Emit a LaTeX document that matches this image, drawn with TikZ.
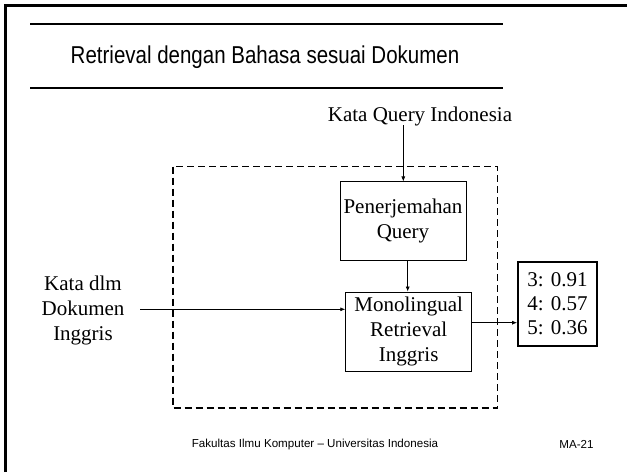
\documentclass[tikz,border=0pt]{standalone}
\usepackage{fontspec}
\setmainfont{Liberation Serif}
\newfontfamily\headfont{Liberation Sans}
\usetikzlibrary{arrows.meta}

\tikzset{
  slideframe/.style={line width=2.4pt},
  titlerule/.style={line width=2.2pt},
  bodytext/.style={font=\fontsize{21}{25}\selectfont, align=center, inner sep=0pt},
  procbox/.style={draw, line width=0.9pt, bodytext, minimum width=126pt, minimum height=79pt},
  resultbox/.style={draw, line width=1.8pt, font=\fontsize{21}{24}\selectfont, align=left,
    inner sep=0pt, minimum width=79pt, minimum height=84pt},
  systembox/.style={line width=1.8pt, dash pattern=on 7pt off 4pt},
  flow/.style={-{Latex[length=5pt,width=4pt]}, line width=0.7pt},
  foot/.style={font=\headfont\fontsize{11.6}{13}\selectfont, inner sep=0pt}
}

\begin{document}
\begin{tikzpicture}[x=1pt,y=-1pt]
\useasboundingbox (0,0) rectangle (627,472);

% slide frame and title rules
\draw[slideframe] (5.3,472) -- (5.3,5.3) -- (627,5.3);
\draw[titlerule] (30,24.3) -- (502.7,24.3);
\draw[titlerule] (30,88.3) -- (502.7,88.3);
\node[font=\headfont\fontsize{24.4}{28}\selectfont, inner sep=0pt, anchor=base] (title)
  at (265,63.3) {\scalebox{0.84}[1]{Retrieval dengan Bahasa sesuai Dokumen}};

% dashed system boundary
\draw[systembox] (172.7,166.5) rectangle (497.5,407.7);

% inputs
\node[bodytext, anchor=base] (query) at (420,121) {Kata Query Indonesia};
\node[bodytext] (docs) at (83,310) {Kata dlm\\Dokumen\\Inggris};

% processing steps
\node[procbox] (trans) at (403,221.4) {Penerjemahan\\Query};
\node[procbox] (mono) at (408.7,331.5) {Monolingual\\Retrieval\\Inggris};

% ranked result list
\node[resultbox] (res) at (557.5,304) {3: 0.91\\4: 0.57\\5: 0.36};

% connectors
\coordinate (qtop) at (403.3,125);
\coordinate (docend) at (140,309.3);
\coordinate (outrow) at (471.7,322.7);
\draw[flow] (qtop) -- (qtop |- trans.north);
\draw[flow] (trans.south -| 407.7,0) -- (mono.north -| 407.7,0);
\draw[flow] (docend) -- (docend -| mono.west);
\draw[flow] (outrow -| mono.east) -- (outrow -| res.west);

% footer
\node[foot] (footl) at (315,444) {Fakultas Ilmu Komputer – Universitas Indonesia};
\node[foot] (footr) at (576.5,444) {MA-21};
\end{tikzpicture}
\end{document}
